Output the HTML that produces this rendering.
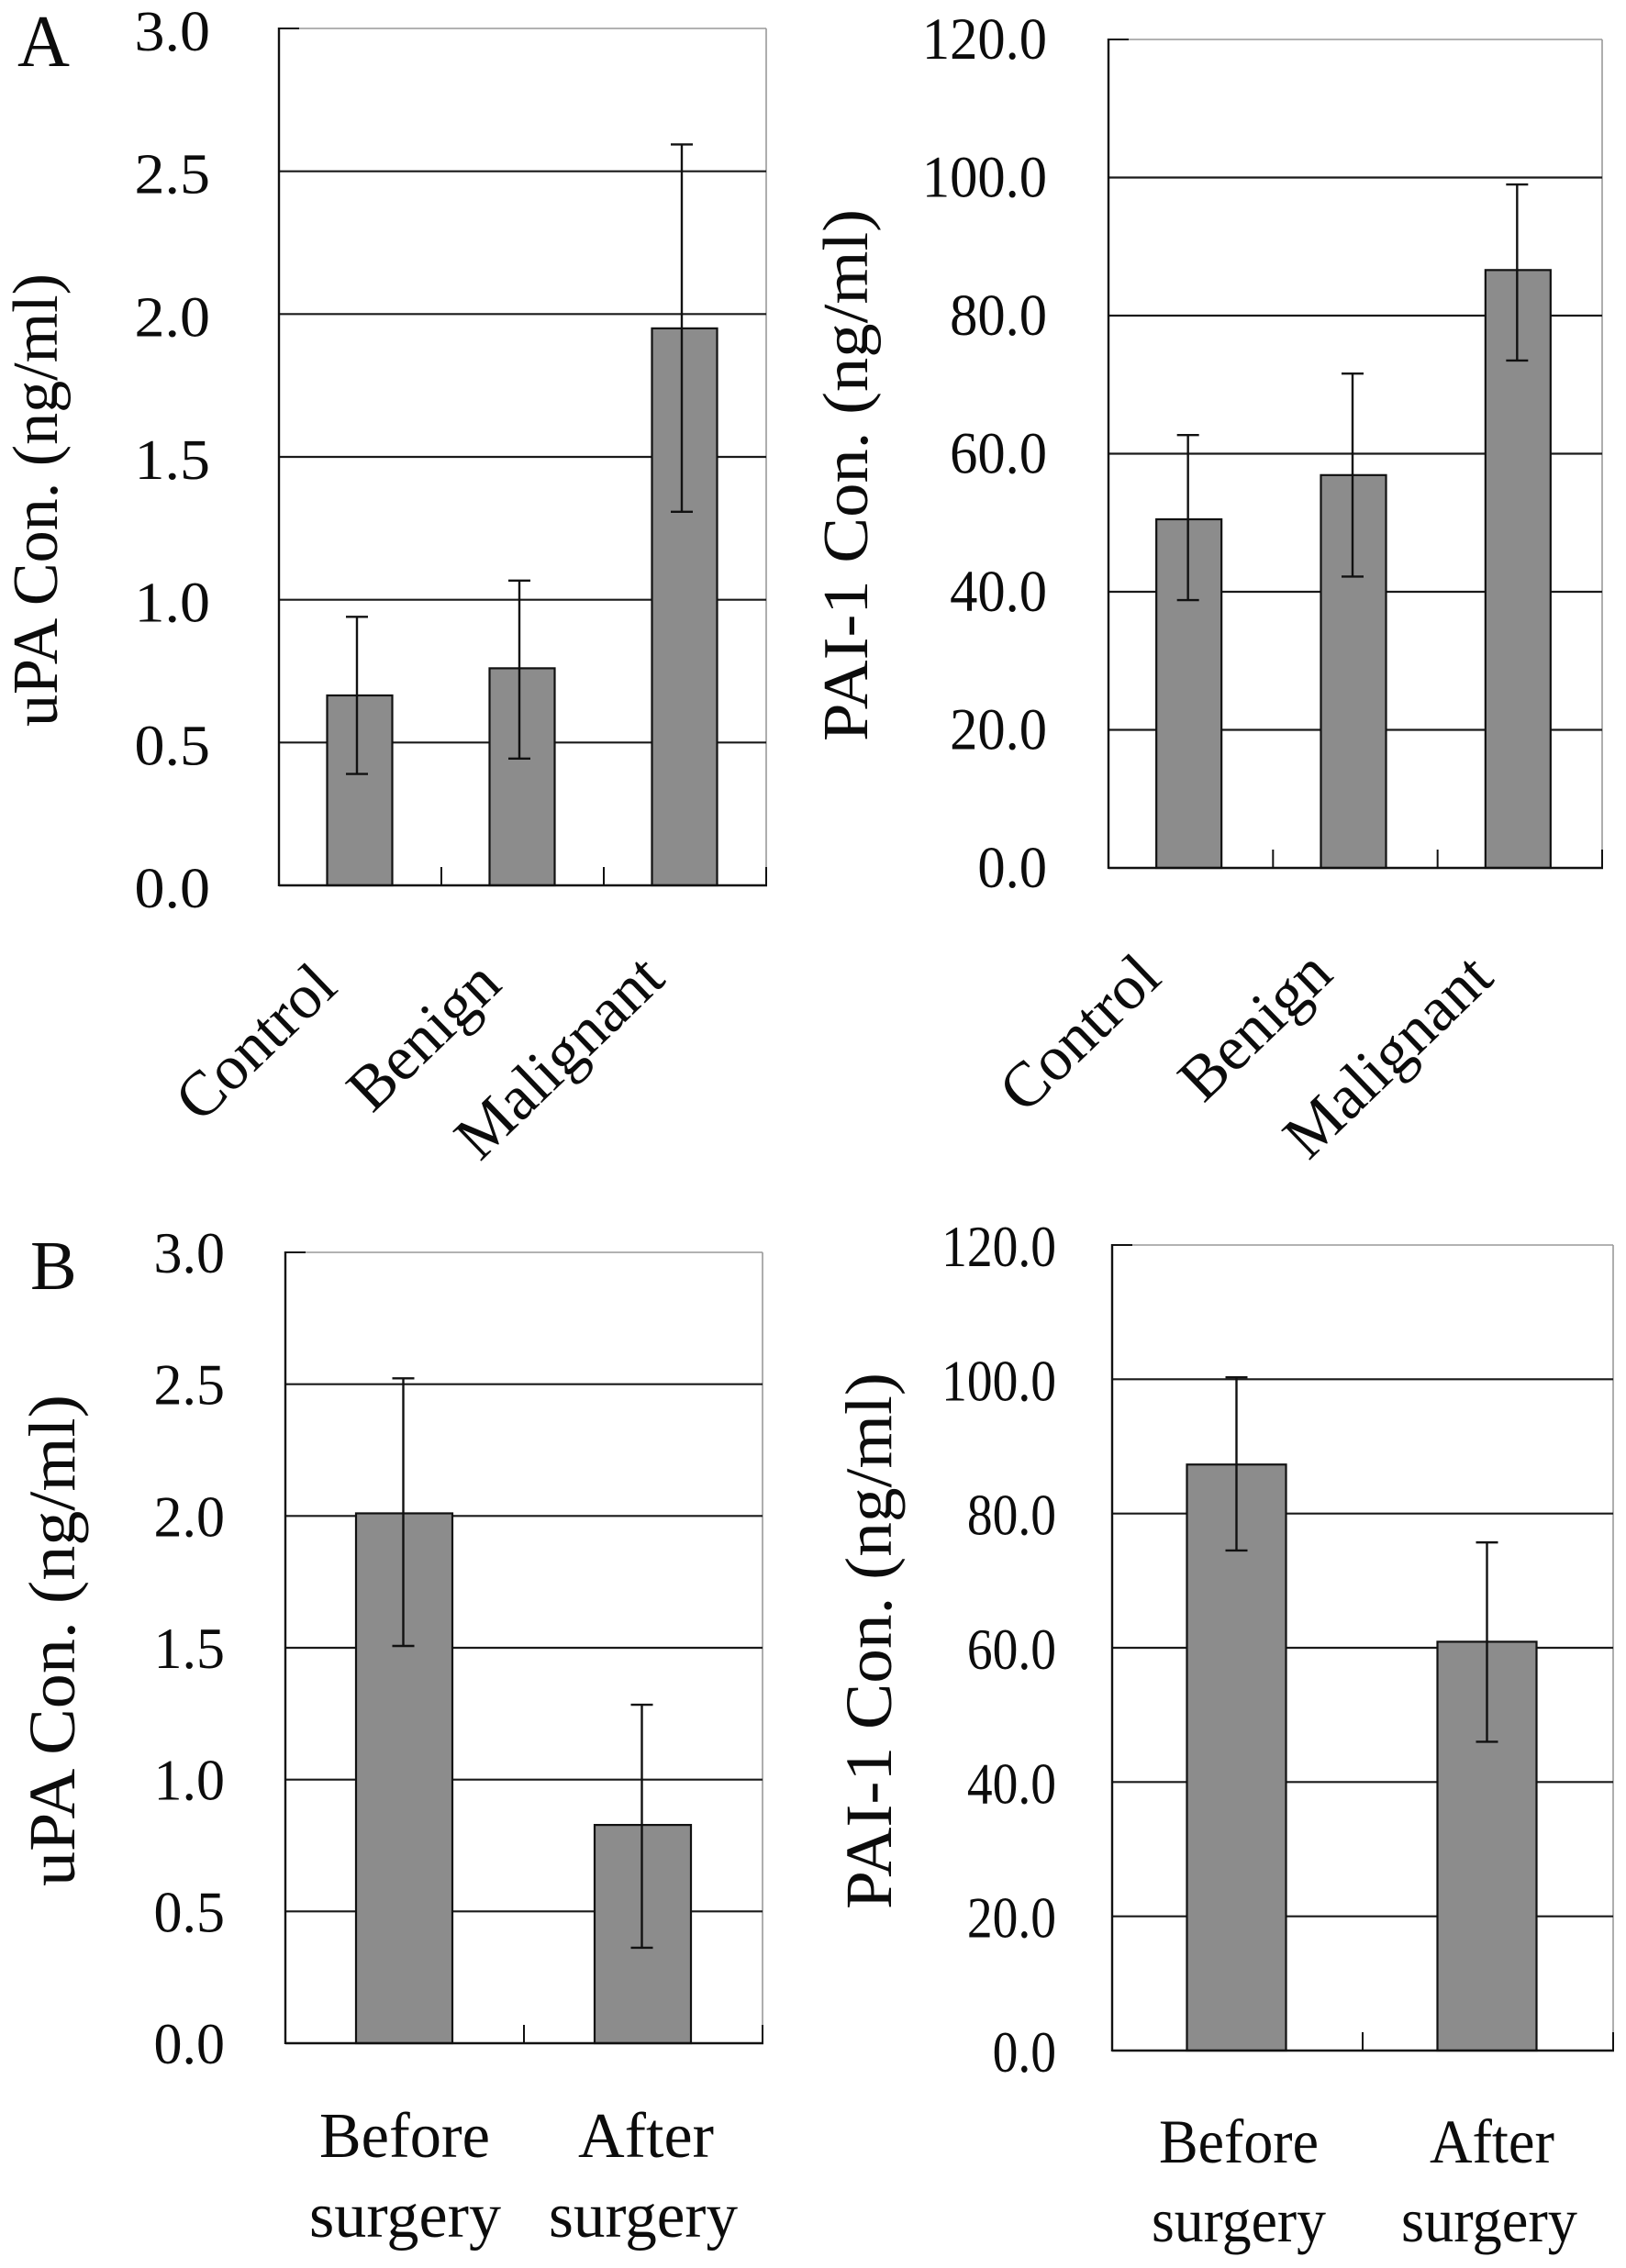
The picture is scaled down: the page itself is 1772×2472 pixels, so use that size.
<!DOCTYPE html>
<html lang="en">
<head>
<meta charset="utf-8">
<title>uPA and PAI-1 concentrations</title>
<style>
html,body{margin:0;padding:0;background:#fff;width:1772px;height:2472px;overflow:hidden}
svg{display:block}
text{font-family:"Liberation Serif",serif;fill:#0c0c0c}
</style>
</head>
<body>
<svg id="figure" xmlns="http://www.w3.org/2000/svg" width="1772" height="2472" viewBox="0 0 1772 2472">
<rect width="1772" height="2472" fill="#fff"/>
<text x="19" y="72" font-size="80" textLength="57" lengthAdjust="spacingAndGlyphs">A</text>
<text x="33" y="1405" font-size="76">B</text>
</svg>
<script>
// ---- chart data ----
const diagnosisCategories = ["Control", "Benign", "Malignant"];
const surgeryCategoriesTop = ["Before", "After"];
const surgeryCategoriesBottom = ["surgery", "surgery"];

const upaTicks = [0, 0.5, 1, 1.5, 2, 2.5, 3];
const upaTickLabels = ["0.0", "0.5", "1.0", "1.5", "2.0", "2.5", "3.0"];
const paiTicks = [0, 20, 40, 60, 80, 100, 120];
const paiTickLabels = ["0.0", "20.0", "40.0", "60.0", "80.0", "100.0", "120.0"];

const upaDiagnosisMeans = [0.665, 0.76, 1.95];
const upaDiagnosisUpper = [0.94, 1.067, 2.594];
const upaDiagnosisLower = [0.39, 0.444, 1.308];

const paiDiagnosisMeans = [50.5, 56.9, 86.6];
const paiDiagnosisUpper = [62.7, 71.6, 99.0];
const paiDiagnosisLower = [38.8, 42.2, 73.5];

const upaSurgeryMeans = [2.01, 0.828];
const upaSurgeryUpper = [2.522, 1.284];
const upaSurgeryLower = [1.507, 0.362];

const paiSurgeryMeans = [87.3, 60.9];
const paiSurgeryUpper = [100.3, 75.7];
const paiSurgeryLower = [74.5, 46.0];

// ---- drawing ----
const NS = "http://www.w3.org/2000/svg";
const figure = document.getElementById("figure");

function make(tag, attrs, parent) {
  const el = document.createElementNS(NS, tag);
  for (const k in attrs) el.setAttribute(k, attrs[k]);
  parent.appendChild(el);
  return el;
}
function emWidth(s) {
  const w = {".":0.25,"-":0.333};
  let t = 0;
  for (const c of s) t += (w[c] !== undefined ? w[c] : 0.5);
  return t;
}

function drawPanel(p) {
  const g = make("g", {}, figure);
  
  

  const yMax = p.ticks[p.ticks.length - 1];
  const yScale = v => p.bottom - (v / yMax) * (p.bottom - p.top);
  const band = (p.right - p.left) / p.means.length;
  const xScale = i => p.left + band * (i + 0.5) + p.barShift;

  // plot frame: light top and right edges
  const frameTop = make("line", {x1:p.left, x2:p.right, y1:p.top, y2:p.top, stroke:"#999", "stroke-width":1.6}, g);
  
  
  const frameRight = make("line", {x1:p.right, x2:p.right, y1:p.top, y2:p.bottom, stroke:"#999", "stroke-width":1.6}, g);
  
  

  // gridlines and y tick labels
  p.ticks.forEach((t, i) => {
    const y = yScale(t);
    if (t !== 0 && t !== yMax) {
      const grid = make("line", {x1:p.left, x2:p.right, y1:y, y2:y, stroke:"#1a1a1a", "stroke-width":2.2}, g);
      
      
    }
    const label = p.tickLabels[i];
    const tx = make("text", {x:p.tickRight, y:y + p.tickDy, "font-size":p.tickFont, "text-anchor":"end",
      textLength:(emWidth(label) * p.tickEm).toFixed(1), lengthAdjust:"spacingAndGlyphs"}, g);
    tx.textContent = label;
    
    
  });

  // bars
  p.means.forEach((m, i) => {
    const cx = xScale(i);
    const bar = make("rect", {x:cx - p.barWidth / 2, y:yScale(m), width:p.barWidth, height:p.bottom - yScale(m),
      fill:"#8c8c8c", stroke:"#111", "stroke-width":2.2}, g);
    
    
  });

  // error bars
  p.means.forEach((m, i) => {
    const cx = xScale(i) + p.errShift;
    const stem = make("line", {x1:cx, x2:cx, y1:yScale(p.upper[i]), y2:yScale(p.lower[i]), stroke:"#111", "stroke-width":2.4}, g);
    
    
    const capTop = make("line", {x1:cx - 12, x2:cx + 12, y1:yScale(p.upper[i]), y2:yScale(p.upper[i]), stroke:"#111", "stroke-width":2.4}, g);
    
    
    const capLow = make("line", {x1:cx - 12, x2:cx + 12, y1:yScale(p.lower[i]), y2:yScale(p.lower[i]), stroke:"#111", "stroke-width":2.4}, g);
    
    
  });

  // axes
  const yAxis = make("line", {x1:p.left, x2:p.left, y1:p.top - 1, y2:p.bottom + 1, stroke:"#111", "stroke-width":2.4}, g);
  
  
  const topTick = make("line", {x1:p.left, x2:p.left + 22, y1:p.top, y2:p.top, stroke:"#111", "stroke-width":2}, g);
  
  
  const xAxis = make("line", {x1:p.left, x2:p.right + 1, y1:p.bottom, y2:p.bottom, stroke:"#111", "stroke-width":2.4}, g);
  
  
  p.means.forEach((m, i) => {
    const tx = p.left + band * (i + 1);
    const tick = make("line", {x1:tx, x2:tx, y1:p.bottom - 20, y2:p.bottom, stroke:"#111", "stroke-width":2}, g);
    
    
  });

  // y axis title
  const title = make("text", {transform:`translate(${p.titleX},${p.titleEndY}) rotate(-90)`, x:0, y:0,
    "font-size":p.titleFont, textLength:p.titleLen, lengthAdjust:"spacingAndGlyphs"}, g);
  title.textContent = p.title;
  
  

  // category labels
  if (p.slanted) {
    p.slanted.forEach((s, i) => {
      const cat = make("text", {transform:`translate(${s[0]},${s[1]}) rotate(-44)`, x:0, y:0, "font-size":69, "text-anchor":"end"}, g);
      cat.textContent = diagnosisCategories[i];
      
      
    });
  }
  if (p.stacked) {
    p.stacked.forEach((s, i) => {
      const line1 = make("text", {x:s.x1, y:p.line1Y, "font-size":p.catFont, textLength:s.w1, lengthAdjust:"spacingAndGlyphs"}, g);
      line1.textContent = surgeryCategoriesTop[i];
      
      
      const line2 = make("text", {x:s.x2, y:p.line2Y, "font-size":p.catFont, textLength:s.w2, lengthAdjust:"spacingAndGlyphs"}, g);
      line2.textContent = surgeryCategoriesBottom[i];
      
      
    });
  }
}

drawPanel({
  name:"chart-a-upa", left:304, right:835, top:31, bottom:965,
  ticks:upaTicks, tickLabels:upaTickLabels, means:upaDiagnosisMeans, upper:upaDiagnosisUpper, lower:upaDiagnosisLower,
  barWidth:71, barShift:-0.5, errShift:-3,
  tickRight:229, tickDy:24, tickFont:62, tickEm:66,
  title:"uPA Con. (ng/ml)", titleX:62, titleEndY:792, titleFont:70, titleLen:494,
  slanted:[[370,1079],[549,1076],[727,1070]]
});
drawPanel({
  name:"chart-a-pai1", left:1208, right:1746, top:43, bottom:946,
  ticks:paiTicks, tickLabels:paiTickLabels, means:paiDiagnosisMeans, upper:paiDiagnosisUpper, lower:paiDiagnosisLower,
  barWidth:71, barShift:-2, errShift:-1,
  tickRight:1141, tickDy:21, tickFont:65, tickEm:60.5,
  title:"PAI-1 Con.  (ng/ml)", titleX:945, titleEndY:808, titleFont:70, titleLen:580,
  slanted:[[1268,1069],[1455,1065],[1630,1069]]
});
drawPanel({
  name:"chart-b-upa", left:311, right:831, top:1365, bottom:2227,
  ticks:upaTicks, tickLabels:upaTickLabels, means:upaSurgeryMeans, upper:upaSurgeryUpper, lower:upaSurgeryLower,
  barWidth:105, barShift:-0.5, errShift:-1,
  tickRight:245, tickDy:22, tickFont:63, tickEm:62,
  title:"uPA Con. (ng/ml)", titleX:81, titleEndY:2056, titleFont:72, titleLen:536,
  catFont:70, line1Y:2351, line2Y:2438,
  stacked:[{x1:348,w1:186,x2:337,w2:209},{x1:630,w1:148,x2:598,w2:206}]
});
drawPanel({
  name:"chart-b-pai1", left:1212, right:1758, top:1357, bottom:2235,
  ticks:paiTicks, tickLabels:paiTickLabels, means:paiSurgeryMeans, upper:paiSurgeryUpper, lower:paiSurgeryLower,
  barWidth:108, barShift:-1, errShift:0,
  tickRight:1151, tickDy:23, tickFont:64, tickEm:55.5,
  title:"PAI-1 Con. (ng/ml)", titleX:971, titleEndY:2081, titleFont:72, titleLen:585,
  catFont:68, line1Y:2357, line2Y:2443,
  stacked:[{x1:1263,w1:174,x2:1255,w2:190},{x1:1558,w1:136,x2:1527,w2:192}]
});
</script>
</body>
</html>
